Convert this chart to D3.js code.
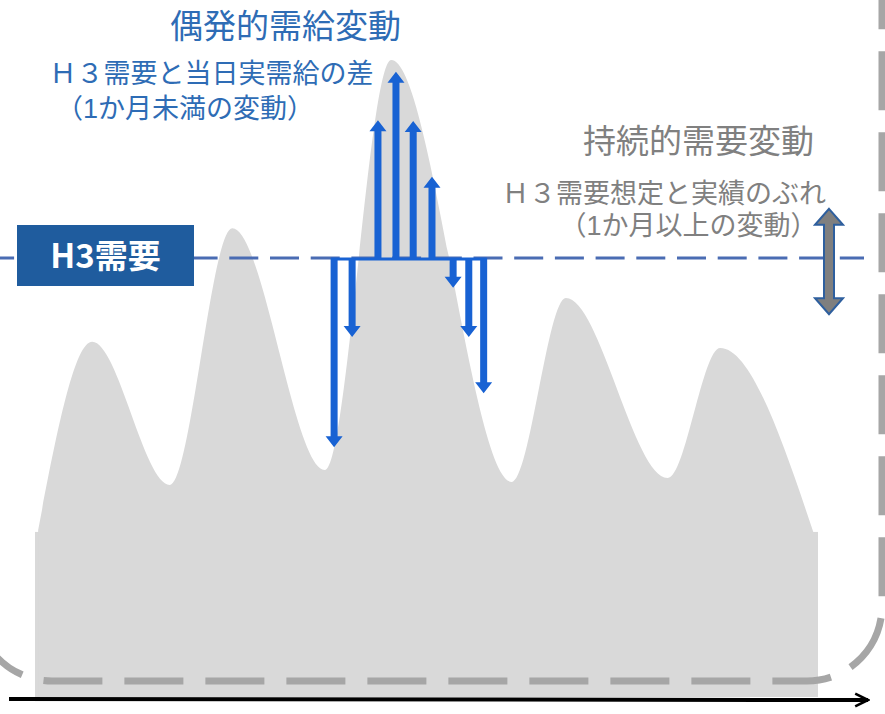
<!DOCTYPE html>
<html>
<head>
<meta charset="utf-8">
<script src="https://cdn.jsdelivr.net/npm/d3@7"></script>
<style>
  body { margin: 0; background: #fff; }
  text { font-family: "Noto Sans CJK JP", "Noto Sans", sans-serif; }
  text.note { font-family: "Liberation Sans", "Noto Sans CJK JP", sans-serif; }
</style>
</head>
<body>
<div id="chart"></div>
<script>
// demand profile, in % of the H3 demand (100 = H3 line), x = position along the period (0-100)
const profileX = [0.4, 7.3, 17.2, 25.2, 37.0, 45.5, 60.9, 67.8, 80.8, 87.5, 99.4];
const profileY = [38.0, 80.9, 48.3, 106.8, 51.7, 145.1, 49.0, 90.9, 49.9, 79.5, 37.6];
const baseLoad = 37.6;
const h3Demand = 100;

// short-term gaps between H3 demand and actual supply/demand
const gapX = [38.2, 40.5, 43.8, 46.1, 48.3, 50.7, 53.4, 55.4, 57.3];
const gapY = [56.9, 82.0, 131.4, 142.4, 131.2, 118.5, 93.2, 82.0, 69.2];

// sustained deviation of the H3 estimate (±)
const sustainedRange = [87.2, 111.2];

const width = 885;
const height = 714;

const x = d3.scaleLinear().domain([0, 100]).range([35, 818]);
const y = d3.scaleLinear().domain([0, 100]).range([697, 258]);

const svg = d3.select("#chart")
  .append("svg")
  .attr("width", width)
  .attr("height", height);

// gray demand shape
const profile = profileX.map((d, i) => ({ x: d, y: profileY[i] }));

svg.append("rect")
  .attr("x", x(0))
  .attr("y", y(baseLoad))
  .attr("width", x(100) - x(0))
  .attr("height", y(0) - y(baseLoad))
  .attr("fill", "#d9d9d9");

const area = d3.area()
  .x(d => x(d.x))
  .y0(y(0))
  .y1(d => y(d.y))
  .curve(d3.curveMonotoneX);

svg.append("path")
  .datum(profile)
  .attr("d", area)
  .attr("fill", "#d9d9d9");

// dashed rounded frame (only bottom + right visible)
const L = -23, R = 882, B = 681, r = 75;
svg.append("path")
  .attr("d", `M${L},540 V${B - r} A${r},${r} 0 0 0 ${L + r},${B} H${R - r} A${r},${r} 0 0 0 ${R},${B - r} V-20`)
  .attr("fill", "none")
  .attr("stroke", "#a6a6a6")
  .attr("stroke-width", 7)
  .attr("stroke-dasharray", "59 22")
  .attr("stroke-dashoffset", 68);

// time axis
svg.append("defs").append("marker")
  .attr("id", "axisHead")
  .attr("viewBox", "0 0 10 10")
  .attr("refX", 9)
  .attr("refY", 5)
  .attr("markerWidth", 4)
  .attr("markerHeight", 4)
  .attr("markerUnits", "strokeWidth")
  .attr("orient", "auto")
  .append("path")
  .attr("d", "M1,1 L9,5 L1,9")
  .attr("fill", "none")
  .attr("stroke", "#000")
  .attr("stroke-width", 1.6);

svg.append("line")
  .attr("x1", 9)
  .attr("x2", 868)
  .attr("y1", y(0) + 2)
  .attr("y2", y(0) + 3)
  .attr("stroke", "#000")
  .attr("stroke-width", 4)
  .attr("marker-end", "url(#axisHead)");

// H3 demand dashed line
svg.append("line")
  .attr("x1", 0)
  .attr("x2", 864)
  .attr("y1", y(h3Demand))
  .attr("y2", y(h3Demand))
  .attr("stroke", "#4a6cb3")
  .attr("stroke-width", 3)
  .attr("stroke-dasharray", "29 11.7")
  .attr("stroke-dashoffset", 14.9);

// blue gap arrows
function arrowPath(cx, y0, y1, shaft, head, headLen) {
  const dir = y1 > y0 ? 1 : -1;
  const yh = y1 - dir * headLen;
  const s = shaft / 2, h = head / 2;
  return `M${cx - s},${y0} V${yh} H${cx - h} L${cx},${y1} L${cx + h},${yh} H${cx + s} V${y0} Z`;
}

const blue = "#1862d3";
const gaps = gapX.map((d, i) => ({ x: d, y: gapY[i] }));

svg.append("line")
  .attr("x1", x(gapX[0]) - 3)
  .attr("x2", x(gapX[gapX.length - 1]) + 3)
  .attr("y1", y(h3Demand) + 1)
  .attr("y2", y(h3Demand) + 1)
  .attr("stroke", blue)
  .attr("stroke-width", 3);

svg.selectAll("path.gap")
  .data(gaps)
  .enter()
  .append("path")
  .attr("class", "gap")
  .attr("d", d => arrowPath(x(d.x), y(h3Demand), y(d.y), 7, 17, 11))
  .attr("fill", blue);

// gray double arrow for sustained deviation
const ax = 829, yTop = y(sustainedRange[1]), yBot = y(sustainedRange[0]);
svg.append("path")
  .attr("d", `M${ax},${yTop} L${ax + 14},${yTop + 16} H${ax + 5} V${yBot - 16} H${ax + 14} L${ax},${yBot} L${ax - 14},${yBot - 16} H${ax - 5} V${yTop + 16} H${ax - 14} Z`)
  .attr("fill", "#7f7f7f")
  .attr("stroke", "#2e5f9e")
  .attr("stroke-width", 2)
  .attr("stroke-linejoin", "miter");

// H3 label box
svg.append("rect")
  .attr("x", 17)
  .attr("y", 225)
  .attr("width", 177)
  .attr("height", 61)
  .attr("fill", "#1f5c9e");

svg.append("text")
  .attr("x", 105.5)
  .attr("y", 268)
  .attr("text-anchor", "middle")
  .attr("fill", "#fff")
  .attr("font-size", 33)
  .attr("font-weight", "bold")
  .text("H3需要");

// annotations
const labels = [
  { t: "偶発的需給変動", x: 285.5, y: 38, s: 33, c: "#2e6cb5" },
  { t: "Ｈ３需要と当日実需給の差", x: 211.5, y: 83, s: 27, c: "#2e6cb5" },
  { t: "（1か月未満の変動）", x: 185, y: 118, s: 27, c: "#2e6cb5" },
  { t: "持続的需要変動", x: 698.5, y: 153, s: 33, c: "#808080" },
  { t: "Ｈ３需要想定と実績のぶれ", x: 664, y: 203, s: 27, c: "#808080" },
  { t: "（1か月以上の変動）", x: 688.5, y: 235, s: 27, c: "#808080" }
];

svg.selectAll("text.note")
  .data(labels)
  .enter()
  .append("text")
  .attr("class", "note")
  .attr("x", d => d.x)
  .attr("y", d => d.y)
  .attr("text-anchor", "middle")
  .attr("font-size", d => d.s)
  .attr("fill", d => d.c)
  .text(d => d.t);
</script>
</body>
</html>
